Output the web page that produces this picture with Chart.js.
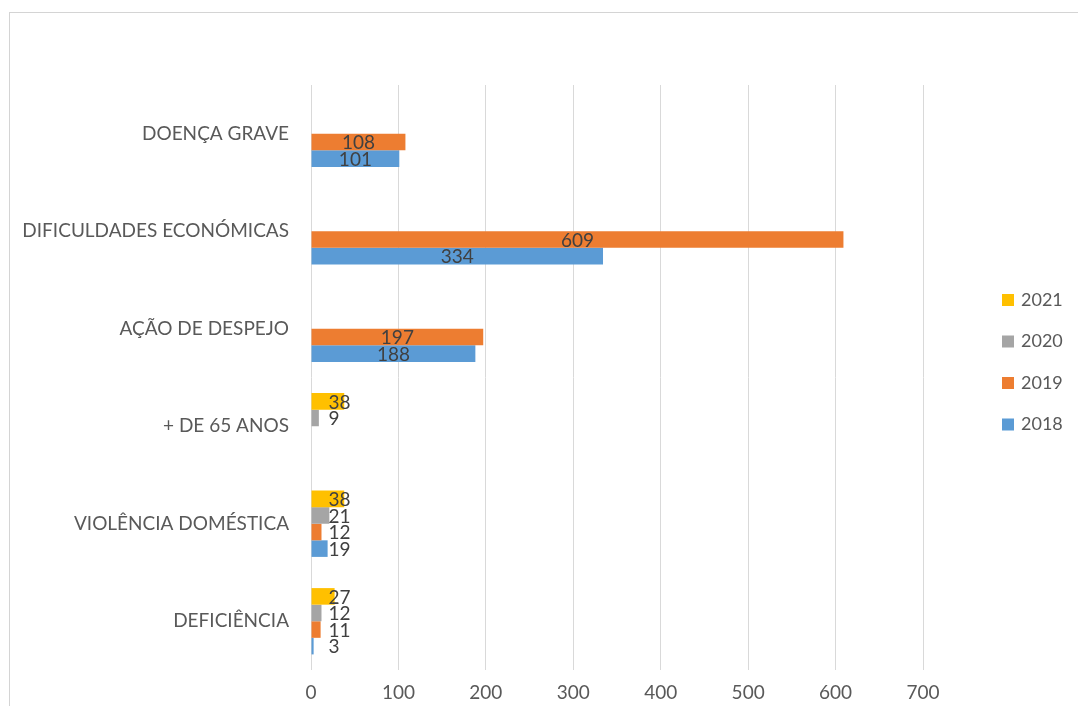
<!DOCTYPE html>
<html>
<head>
<meta charset="utf-8">
<script src="https://cdn.jsdelivr.net/npm/chart.js@4/dist/chart.umd.min.js"></script>
<style>
  html, body { margin: 0; padding: 0; background: #ffffff; overflow: hidden; }
  #frame { position: absolute; left: 9px; top: 12px; width: 1200px; height: 800px;
           border-left: 1px solid #d4d4d4; border-top: 1px solid #d4d4d4; }
  #wrap { position: absolute; left: 0; top: 0; width: 1078px; height: 706px; }
</style>
</head>
<body>
<div id="frame"></div>
<div id="wrap"><canvas id="c" width="1078" height="706"></canvas></div>
<script>
const categories = ['DOENÇA GRAVE', 'DIFICULDADES ECONÓMICAS', 'AÇÃO DE DESPEJO', '+ DE 65 ANOS', 'VIOLÊNCIA DOMÉSTICA', 'DEFICIÊNCIA'];
const seriesNames = ['2021', '2020', '2019', '2018'];
const values2021 = [null, null, null, 38, 38, 27];
const values2020 = [null, null, null, 9, 21, 12];
const values2019 = [108, 609, 197, null, 12, 11];
const values2018 = [101, 334, 188, null, 19, 3];
const xTicks = [0, 100, 200, 300, 400, 500, 600, 700];

const colors = ['#FFC000', '#A5A5A5', '#ED7D31', '#5B9BD5'];
const seriesValues = [values2021, values2020, values2019, values2018];
const FONT = 'Lato, "Open Sans", sans-serif';

const valueLabels = {
  id: 'valueLabels',
  afterDatasetsDraw(chart) {
    const ctx = chart.ctx;
    ctx.save();
    ctx.font = '19px ' + FONT;
    ctx.fillStyle = '#404040';
    ctx.textBaseline = 'middle';
    ctx.textAlign = 'left';
    chart.data.datasets.forEach((ds, di) => {
      const meta = chart.getDatasetMeta(di);
      meta.data.forEach((el, i) => {
        const v = ds.data[i];
        if (v === null || v === undefined) return;
        const txt = String(v);
        const w = ctx.measureText(txt).width;
        const center = (el.x + el.base) / 2;
        const left = Math.max(center - w / 2, el.base + 17);
        ctx.fillText(txt, left, el.y + 1);
      });
    });
    ctx.restore();
  }
};

const sideLegend = {
  id: 'sideLegend',
  afterDraw(chart) {
    const ctx = chart.ctx;
    ctx.save();
    ctx.font = '18px ' + FONT;
    ctx.textBaseline = 'middle';
    ctx.textAlign = 'left';
    const y0 = 300, step = 41.5;
    chart.data.datasets.forEach((ds, i) => {
      const y = y0 + i * step;
      ctx.fillStyle = ds.backgroundColor;
      ctx.fillRect(1002, y - 6, 12, 12);
      ctx.fillStyle = '#595959';
      ctx.fillText(ds.label, 1021, y);
    });
    ctx.restore();
  }
};

new Chart(document.getElementById('c'), {
  type: 'bar',
  data: {
    labels: categories,
    datasets: seriesNames.map((name, i) => ({
      label: name,
      data: seriesValues[i],
      backgroundColor: colors[i],
      borderWidth: 0,
      categoryPercentage: 0.68,
      barPercentage: 1.0
    }))
  },
  options: {
    indexAxis: 'y',
    responsive: false,
    animation: false,
    layout: { padding: { left: 0, right: 155, top: 85, bottom: 0 } },
    plugins: { legend: { display: false }, tooltip: { enabled: false } },
    scales: {
      x: {
        min: 0, max: 700,
        afterBuildTicks: (scale) => { scale.ticks = xTicks.map(v => ({ value: v })); },
        afterFit: (scale) => { scale.height = 36; },
        grid: { color: '#d9d9d9', lineWidth: 1, drawTicks: false },
        border: { display: false },
        ticks: { color: '#595959', font: { family: FONT, size: 19 }, padding: 11 }
      },
      y: {
        afterFit: (scale) => { scale.width = 311; },
        grid: { display: false, drawTicks: false },
        border: { display: false },
        ticks: { color: '#595959', font: { family: FONT, size: 19 }, padding: 22 }
      }
    }
  },
  plugins: [valueLabels, sideLegend]
});
</script>
</body>
</html>
